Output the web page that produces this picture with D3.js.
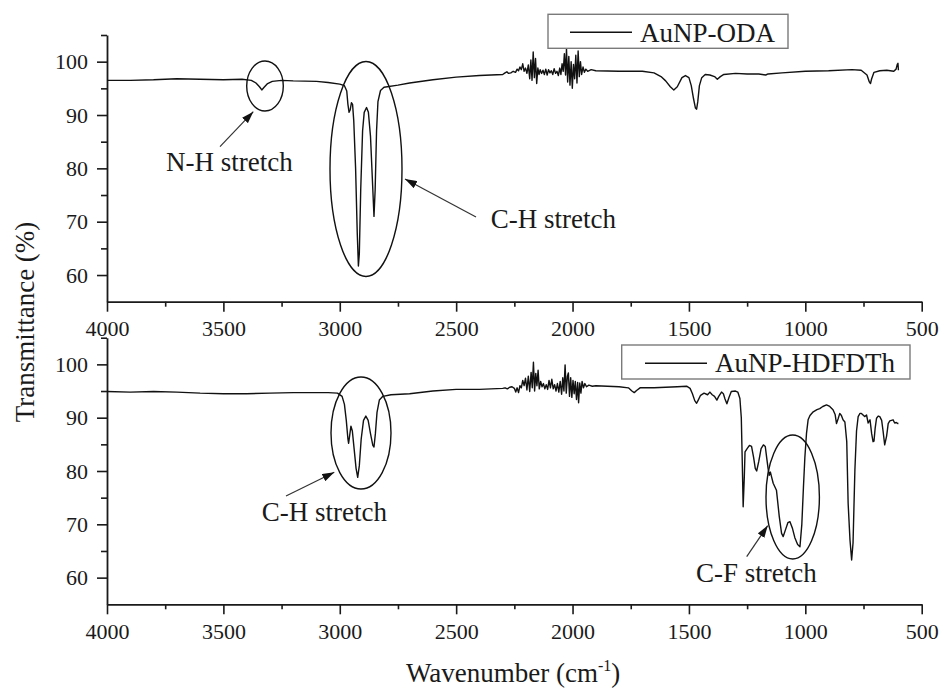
<!DOCTYPE html>
<html>
<head>
<meta charset="utf-8">
<script src="https://cdn.jsdelivr.net/npm/d3@7"></script>
</head>
<body style="margin:0;padding:0;background:#fff">
<svg id="chart" width="943" height="692" style="display:block"></svg>
<script>
// ---- FTIR spectra: wavenumber (cm^-1) and transmittance (%) ----
const odaWave = [
  4000, 3900, 3800, 3700, 3600, 3500, 3420, 3380, 3360, 3345, 3335, 3325, 3310, 3290, 3250, 3200, 3100, 3050,
  3000, 2980, 2970, 2965, 2960, 2955, 2950, 2945, 2940, 2932, 2925, 2920, 2916, 2910, 2902, 2895, 2885, 2877,
  2868, 2860, 2853, 2848, 2842, 2836, 2825, 2810, 2750, 2700, 2600, 2500, 2400, 2300,
  2290, 2282, 2275, 2265, 2255, 2245, 2238, 2232, 2226, 2220, 2214, 2208, 2202, 2196, 2190, 2184, 2179, 2174,
  2169, 2164, 2159, 2154, 2149, 2144, 2139, 2133, 2127, 2121, 2115, 2109, 2103, 2097, 2091, 2085, 2079, 2073,
  2067, 2061, 2055, 2050, 2045, 2040, 2035, 2030, 2026, 2021, 2016, 2011, 2006, 2001, 1996, 1991, 1986, 1981,
  1976, 1971, 1966, 1961, 1955, 1949, 1943, 1935, 1920, 1900,
  1800, 1700, 1650, 1620, 1600, 1580, 1565, 1550, 1530, 1515, 1500, 1490, 1480, 1472, 1467, 1462, 1455, 1445,
  1430, 1410, 1390, 1378, 1365, 1350, 1300, 1250, 1200, 1170, 1160, 1100, 1000, 900, 800, 760, 735, 725, 720,
  715, 705, 680, 650, 620, 610, 605, 602, 600
];
const odaT = [
  96.5, 96.5, 96.6, 96.8, 96.7, 96.6, 96.7, 96.5, 96.0, 95.3, 94.7, 95.2, 95.9, 96.3, 96.5, 96.4, 96.3, 96.1,
  95.8, 95.5, 94.5, 92.0, 90.5, 91.0, 92.3, 92.0, 89.0, 80.0, 68.0, 61.7, 64.0, 76.0, 87.0, 90.5, 91.4, 90.5,
  86.0, 78.0, 71.0, 76.0, 87.0, 92.5, 94.6, 95.2, 95.6, 96.0, 96.6, 97.1, 97.4, 97.6,
  97.9, 98.1, 97.8, 97.9, 98.2, 98.0, 98.6, 98.3, 99.0, 98.5, 99.6, 98.2, 98.8, 97.8, 99.4, 96.8, 100.3, 96.5,
  101.8, 97.0, 100.6, 95.9, 98.8, 97.6, 98.5, 97.8, 98.4, 97.6, 98.6, 97.5, 98.5, 97.9, 98.3, 97.6, 98.7, 97.8,
  98.2, 97.4, 98.8, 97.6, 99.6, 98.2, 101.5, 97.5, 102.4, 96.2, 101.0, 95.6, 100.0, 95.0, 99.5, 96.8, 101.2, 96.0,
  102.0, 97.2, 100.0, 97.6, 99.0, 98.0, 98.6, 98.2, 98.5, 98.3,
  98.2, 98.2, 97.9, 97.2, 96.4, 95.3, 94.7, 95.3, 97.0, 97.4, 97.0, 95.5, 93.0, 91.3, 91.1, 92.5, 95.5, 97.0,
  97.6, 97.5, 97.2, 96.7, 97.2, 97.6, 97.8, 97.7, 97.7, 97.5, 97.7, 97.9, 98.2, 98.3, 98.5, 98.4, 97.5, 96.2, 95.9,
  96.8, 98.0, 98.3, 98.4, 98.2, 98.6, 99.5, 99.7, 98.4
];

const hdfWave = [
  4000, 3900, 3800, 3700, 3600, 3500, 3400, 3300, 3200, 3100, 3050, 3010, 2990, 2980, 2972, 2965, 2962, 2958,
  2952, 2946, 2938, 2930, 2923, 2916, 2908, 2898, 2888, 2878, 2868, 2858, 2853, 2847, 2840, 2830, 2815, 2780,
  2700, 2600, 2500, 2400, 2300,
  2290, 2280, 2270, 2260, 2250, 2244, 2238, 2232, 2226, 2220, 2214, 2208, 2202, 2196, 2190, 2184, 2178, 2173,
  2168, 2163, 2158, 2153, 2148, 2143, 2137, 2131, 2125, 2119, 2113, 2107, 2101, 2095, 2089, 2083, 2077, 2071,
  2065, 2059, 2053, 2047, 2042, 2037, 2032, 2027, 2022, 2018, 2013, 2008, 2003, 1998, 1993, 1988, 1983, 1978,
  1974, 1969, 1964, 1959, 1953, 1947, 1940, 1930, 1915, 1900,
  1800, 1760, 1745, 1735, 1725, 1710, 1650, 1600, 1550, 1510, 1495, 1485, 1475, 1467, 1460, 1450, 1435, 1420,
  1410, 1400, 1390, 1380, 1372, 1360, 1352, 1345, 1337, 1328, 1318, 1300, 1290, 1281, 1275, 1271, 1267, 1262,
  1259, 1250, 1240, 1231, 1222, 1215, 1209, 1200, 1190, 1180, 1172, 1166, 1160, 1155, 1150, 1145, 1138, 1124,
  1112, 1102, 1095, 1085, 1075, 1066, 1055, 1045, 1033, 1023, 1015, 1008, 1002, 995, 988, 980, 966, 950, 938,
  925, 909, 895, 881, 872, 866, 859, 852, 845, 838, 830, 822, 816, 808, 801, 795, 787, 780, 773, 765, 759, 745,
  737, 730, 722, 715, 709, 705, 700, 694, 687, 680, 672, 666, 659, 651, 647, 644, 637, 630, 623, 616, 609, 602, 600
];
const hdfT = [
  94.9, 94.8, 94.9, 94.8, 94.6, 94.5, 94.5, 94.6, 94.7, 94.7, 94.7, 94.6, 94.0, 92.5, 89.5, 86.0, 85.2, 86.5,
  88.4, 87.5, 84.0, 80.5, 78.8, 81.0, 86.0, 89.5, 90.3, 89.5, 87.0, 84.8, 84.5, 87.0, 91.0, 93.3, 94.0, 94.3,
  94.5, 95.0, 95.3, 95.3, 95.5,
  95.6, 95.4, 95.7, 95.8, 95.5, 94.8, 95.6, 94.7, 96.0, 95.6, 97.0, 96.0, 97.4, 95.2, 97.8, 94.9, 98.5, 95.6,
  100.4, 95.0, 98.3, 96.0, 98.9, 95.4, 96.8, 95.8, 96.4, 95.4, 96.2, 95.3, 97.0, 95.6, 97.2, 95.4, 96.2, 95.0,
  96.4, 94.8, 96.8, 94.4, 97.5, 95.0, 99.9, 94.6, 97.8, 98.4, 94.0, 97.5, 93.8, 97.0, 94.5, 96.8, 93.4, 96.6,
  92.8, 96.5, 94.6, 96.8, 95.6, 96.4, 95.8, 96.1, 95.9, 96.0,
  95.8, 95.6, 95.0, 94.7, 95.1, 95.6, 95.6, 95.7, 95.8, 95.9, 95.5, 94.5, 93.2, 92.7, 93.3, 94.2, 94.6, 94.3,
  94.8, 94.3, 94.0, 93.3, 94.0, 94.8, 94.5, 93.5, 92.6, 93.8, 94.9, 95.0, 94.8, 93.6, 90.0, 82.0, 73.3, 79.0,
  83.6, 84.2, 84.8, 84.6, 82.5, 80.5, 80.0, 81.8, 84.2, 84.9, 84.6, 82.5, 80.5, 79.2, 79.8, 78.9, 77.7, 76.4,
  71.5, 68.3, 67.7, 69.0, 70.3, 70.5, 69.2, 67.5, 66.2, 65.8, 70.0, 77.0, 82.5, 87.0, 89.6, 90.4, 91.1, 91.5, 91.7,
  92.1, 92.4, 92.1, 91.5, 90.6, 88.9, 89.8, 90.8, 90.4, 89.6, 89.2, 85.5, 73.9, 67.0, 63.3, 66.5, 80.2, 87.5, 90.2,
  90.8, 90.8, 90.2, 90.5, 89.0, 89.6, 87.0, 85.5, 85.6, 88.0, 89.9, 90.3, 90.2, 89.5, 87.5, 84.9, 86.5, 87.8, 88.9,
  89.4, 89.5, 89.6, 89.0, 89.1, 88.9, 88.9
];

// ---- axis ticks ----
const xMajorTicks = [4000, 3500, 3000, 2500, 2000, 1500, 1000, 500];
const xMinorTicks = [3750, 3250, 2750, 2250, 1750, 1250, 750];
const yMajorTicks = [60, 70, 80, 90, 100];
const yMinorTicks = [65, 75, 85, 95, 105];

// ---- labels ----
const seriesNames = ["AuNP-ODA", "AuNP-HDFDTh"];
const yTitle = "Transmittance (%)";
const xTitle = "Wavenumber (cm";

const FONT = "Liberation Serif";
const INK = "#1a1a1a";

const svg = d3.select("#chart");
svg.append("rect").attr("width", 943).attr("height", 692).attr("fill", "#fff");

const left = 107, right = 921.7;
const x = d3.scaleLinear().domain([4000, 500]).range([left, right]);

const panels = [
  { top: 35, bottom: 301.7, wave: odaWave, T: odaT },
  { top: 337.7, bottom: 604.3, wave: hdfWave, T: hdfT }
];
panels.forEach(p => {
  p.y = d3.scaleLinear().domain([55, 105]).range([p.bottom, p.top]);
});

function styleText(sel, size) {
  return sel.style("font-family", FONT).style("font-size", size + "px").style("fill", INK);
}

function drawAxes(p) {
  const g = svg.append("g");
  // minor ticks
  g.append("g")
    .attr("transform", `translate(0,${p.bottom})`)
    .call(d3.axisBottom(x).tickValues(xMinorTicks).tickSize(5).tickSizeOuter(0).tickFormat(""))
    .call(s => s.select(".domain").remove());
  g.append("g")
    .attr("transform", `translate(${left},0)`)
    .call(d3.axisLeft(p.y).tickValues(yMinorTicks).tickSize(6).tickSizeOuter(0).tickFormat(""))
    .call(s => s.select(".domain").remove());
  // major ticks with labels
  g.append("g")
    .attr("transform", `translate(0,${p.bottom})`)
    .call(d3.axisBottom(x).tickValues(xMajorTicks).tickSize(10).tickSizeOuter(0).tickPadding(9).tickFormat(d3.format("d")));
  g.append("g")
    .attr("transform", `translate(${left},0)`)
    .call(d3.axisLeft(p.y).tickValues(yMajorTicks).tickSize(10).tickSizeOuter(0).tickPadding(9).tickFormat(d3.format("d")));
  g.selectAll(".tick line").attr("stroke", INK).attr("stroke-width", 1.6);
  g.selectAll(".domain").attr("stroke", INK).attr("stroke-width", 1.8);
  styleText(g.selectAll(".tick text"), 22);
}

function drawSeries(p) {
  const pts = p.wave.map((w, i) => [w, p.T[i]]);
  const line = d3.line().x(d => x(d[0])).y(d => p.y(d[1]));
  svg.append("path")
    .datum(pts)
    .attr("d", line)
    .attr("fill", "none")
    .attr("stroke", "#111")
    .attr("stroke-width", 1.4)
    .attr("stroke-linejoin", "round");
}

// lower panel first so the upper panel's tick labels sit on top
drawAxes(panels[1]);
drawAxes(panels[0]);
panels.forEach(drawSeries);

// ---- legends ----
function legend(bx, by, bw, bh, lx1, lx2, ly, tx, tyBase, label) {
  svg.append("rect").attr("x", bx).attr("y", by).attr("width", bw).attr("height", bh)
    .attr("fill", "#fff").attr("stroke", "#7a7a7a").attr("stroke-width", 1.4);
  svg.append("line").attr("x1", lx1).attr("x2", lx2).attr("y1", ly).attr("y2", ly)
    .attr("stroke", "#111").attr("stroke-width", 1.5);
  styleText(svg.append("text").attr("x", tx).attr("y", tyBase), 27).text(label);
}
legend(548, 14.3, 240, 34, 570, 632, 32.3, 640, 41.7, seriesNames[0]);
legend(621.7, 345, 288.3, 34, 645, 707, 363.3, 715, 371.7, seriesNames[1]);

// ---- annotations: ellipses around bands, arrows and captions ----
svg.append("defs").append("marker")
  .attr("id", "arrowhead")
  .attr("viewBox", "0 0 12 8")
  .attr("refX", 12).attr("refY", 4)
  .attr("markerWidth", 12).attr("markerHeight", 8)
  .attr("markerUnits", "userSpaceOnUse")
  .attr("orient", "auto")
  .append("path").attr("d", "M0,0 L12,4 L0,8 Z").attr("fill", "#111");

const ellipses = [
  { cx: 265, cy: 86, rx: 18.3, ry: 25 },
  { cx: 366, cy: 169, rx: 36, ry: 107.5 },
  { cx: 361, cy: 433, rx: 30, ry: 56 },
  { cx: 792.7, cy: 497, rx: 26.7, ry: 62 }
];
ellipses.forEach(e => {
  svg.append("ellipse").attr("cx", e.cx).attr("cy", e.cy).attr("rx", e.rx).attr("ry", e.ry)
    .attr("fill", "none").attr("stroke", "#111").attr("stroke-width", 1.4);
});

const arrows = [
  [220, 146.7, 253.3, 111.7],
  [476, 217, 405, 179],
  [286, 496, 334.3, 472.3],
  [746.7, 556.7, 767.7, 525.7]
];
arrows.forEach(a => {
  svg.append("line").attr("x1", a[0]).attr("y1", a[1]).attr("x2", a[2]).attr("y2", a[3])
    .attr("stroke", "#333").attr("stroke-width", 1.2).attr("marker-end", "url(#arrowhead)");
});

const captions = [
  { x: 166, y: 170.7, t: "N-H stretch" },
  { x: 490.7, y: 228.3, t: "C-H stretch" },
  { x: 261.7, y: 521, t: "C-H stretch" },
  { x: 696, y: 581.7, t: "C-F stretch" }
];
captions.forEach(c => {
  styleText(svg.append("text").attr("x", c.x).attr("y", c.y), 27).text(c.t);
});

// ---- axis titles ----
styleText(svg.append("text")
  .attr("transform", "translate(34,322) rotate(-90)")
  .attr("text-anchor", "middle"), 27)
  .text(yTitle);

const xt = styleText(svg.append("text").attr("x", 406).attr("y", 682), 27);
xt.append("tspan").text(xTitle);
xt.append("tspan").style("font-size", "16px").attr("dy", -11).text("-1");
xt.append("tspan").attr("dy", 11).text(")");
</script>
</body>
</html>
